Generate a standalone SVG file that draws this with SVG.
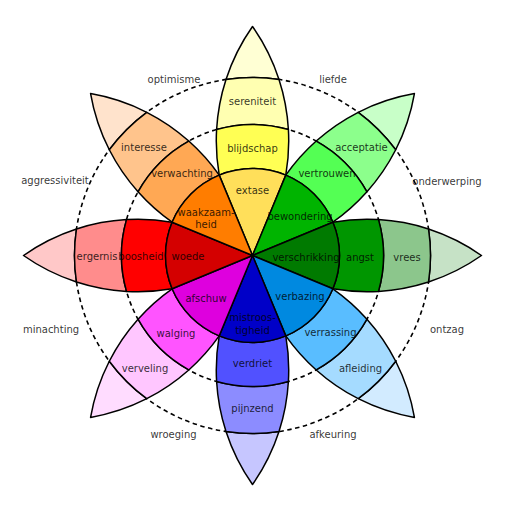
<svg xmlns="http://www.w3.org/2000/svg" width="506" height="512" viewBox="0 0 506 512">
<style>
.e{stroke:#000;stroke-width:1.5;stroke-linejoin:round}
.d{fill:none;stroke:#000;stroke-width:1.6;stroke-dasharray:4.5,3.5}
text{font-family:"DejaVu Sans","Liberation Sans",sans-serif;font-size:10px;text-anchor:middle;fill:#000;fill-opacity:0.8}
</style>
<defs>
<path id="s" class="e" d="M0,0 L-33.29,-80.38 A87,87 0 0 1 33.29,-80.38 Z"/>
<path id="b1" class="e" d="M-33.29,-80.38 A199.02,199.02 0 0 1 -35.89,-125.99 A131,131 0 0 1 35.89,-125.99 A199.02,199.02 0 0 1 33.29,-80.38 A87,87 0 0 0 -33.29,-80.38 Z"/>
<path id="b2" class="e" d="M-35.89,-125.99 A199.02,199.02 0 0 1 -26.5,-176.02 A178,178 0 0 1 26.5,-176.02 A199.02,199.02 0 0 1 35.89,-125.99 A131,131 0 0 0 -35.89,-125.99 Z"/>
<path id="t" class="e" d="M-26.5,-176.02 A199.02,199.02 0 0 1 0,-229 A199.02,199.02 0 0 1 26.5,-176.02 A178,178 0 0 0 -26.5,-176.02 Z"/>
</defs>
<g id="rings">
<circle class="d" cx="252.5" cy="255.5" r="131"/>
<circle class="d" cx="252.5" cy="255.5" r="178"/>
</g>
<g id="joy" transform="translate(252.5,255.5)">
<use href="#t" fill="#ffffd4"/><use href="#b2" fill="#ffffb1"/><use href="#b1" fill="#ffff54"/><use href="#s" fill="#ffdf5a"/>
</g>
<g id="trust" transform="translate(252.5,255.5) rotate(45)">
<use href="#t" fill="#c8ffc8"/><use href="#b2" fill="#8cff8c"/><use href="#b1" fill="#54ff54"/><use href="#s" fill="#00b400"/>
</g>
<g id="fear" transform="translate(252.5,255.5) rotate(90)">
<use href="#t" fill="#c6e2c6"/><use href="#b2" fill="#8cc68c"/><use href="#b1" fill="#009600"/><use href="#s" fill="#007a00"/>
</g>
<g id="surprise" transform="translate(252.5,255.5) rotate(135)">
<use href="#t" fill="#d2ebff"/><use href="#b2" fill="#a5dbff"/><use href="#b1" fill="#59bdff"/><use href="#s" fill="#0089e0"/>
</g>
<g id="sadness" transform="translate(252.5,255.5) rotate(180)">
<use href="#t" fill="#c6c6ff"/><use href="#b2" fill="#8c8cff"/><use href="#b1" fill="#5151ff"/><use href="#s" fill="#0000c8"/>
</g>
<g id="disgust" transform="translate(252.5,255.5) rotate(225)">
<use href="#t" fill="#ffdcff"/><use href="#b2" fill="#ffc6ff"/><use href="#b1" fill="#ff54ff"/><use href="#s" fill="#de00de"/>
</g>
<g id="anger" transform="translate(252.5,255.5) rotate(270)">
<use href="#t" fill="#ffc8c8"/><use href="#b2" fill="#ff8c8c"/><use href="#b1" fill="#ff0000"/><use href="#s" fill="#d40000"/>
</g>
<g id="anticipation" transform="translate(252.5,255.5) rotate(315)">
<use href="#t" fill="#ffe3cc"/><use href="#b2" fill="#ffc48c"/><use href="#b1" fill="#ffa854"/><use href="#s" fill="#ff7d00"/>
</g>
<g id="labels">
<text x="252.5" y="104.5">sereniteit</text>
<text x="252.5" y="151.5">blijdschap</text>
<text x="252.5" y="193.5">extase</text>
<text x="361.5" y="150.5">acceptatie</text>
<text x="327" y="176.5">vertrouwen</text>
<text x="300" y="219.5">bewondering</text>
<text x="306" y="260.5">verschrikking</text>
<text x="360" y="260.5">angst</text>
<text x="407" y="260.5">vrees</text>
<text x="300" y="299.5">verbazing</text>
<text x="330.5" y="335.5">verrassing</text>
<text x="360.5" y="371.5">afleiding</text>
<text x="252.5" y="366.5">verdriet</text>
<text x="252.5" y="411.5">pijnzend</text>
<text x="252.5" y="320.5">mistroos-</text>
<text x="252.5" y="333.5">tigheid</text>
<text x="206" y="301.5">afschuw</text>
<text x="176" y="336.5">walging</text>
<text x="145" y="371.5">verveling</text>
<text x="188" y="259.5">woede</text>
<text x="141" y="259.5">boosheid</text>
<text x="97" y="259.5">ergernis</text>
<text x="206" y="215.5">waakzaam-</text>
<text x="206" y="228">heid</text>
<text x="182" y="176.5">verwachting</text>
<text x="144" y="150.5">interesse</text>
</g>
<g id="dyads">
<text x="174" y="82.5">optimisme</text>
<text x="333" y="82.5">liefde</text>
<text x="55" y="184">aggressiviteit</text>
<text x="447" y="185">onderwerping</text>
<text x="51" y="332.5">minachting</text>
<text x="447" y="332.5">ontzag</text>
<text x="173.5" y="437.5">wroeging</text>
<text x="333" y="437.5">afkeuring</text>
</g>
</svg>
